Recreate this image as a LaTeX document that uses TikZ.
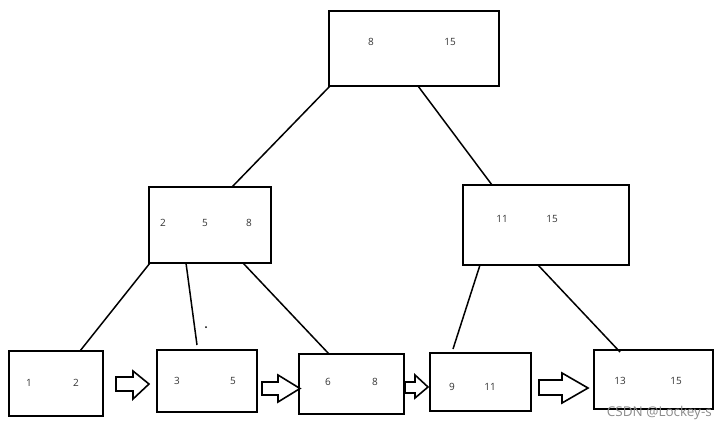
\documentclass[tikz,border=0pt]{standalone}
\usepackage{fontspec}
\setmainfont{Open Sans}
\begin{document}
\begin{tikzpicture}[x=1pt,y=-1pt,
  keybox/.style={draw=black,line width=1.9pt},
  keytext/.style={font=\fontsize{10}{11}\selectfont,text=black!80,inner sep=0pt},
  edge/.style={draw=black,line width=1.5pt},
  blockarrow/.style={draw=black,line width=1.6pt,fill=white,line join=miter}]
\useasboundingbox (0,0) rectangle (727,428);
% boxes
\draw[keybox] (329,11) rectangle (499,86);
\coordinate (rootL) at (330,86); \coordinate (rootR) at (418,86);
\node[keytext] (r8) at (371,42) {8};
\node[keytext] (r15) at (450,42) {15};

\draw[keybox] (149,187) rectangle (271,263);
\coordinate (mlT) at (232,187);
\coordinate (mlA) at (150,263); \coordinate (mlB) at (186,263); \coordinate (mlC) at (243,263);
\node[keytext] (m2) at (163,223) {2};
\node[keytext] (m5) at (205,223) {5};
\node[keytext] (m8) at (249,223) {8};

\draw[keybox] (463,185) rectangle (629,265);
\coordinate (mrT) at (492,185);
\coordinate (mrA) at (480,265); \coordinate (mrB) at (538,265);
\node[keytext] (n11) at (502,219) {11};
\node[keytext] (n15) at (552,219) {15};

\draw[keybox] (9,351) rectangle (103,416);
\coordinate (l1T) at (80,351);
\node[keytext] (a1) at (29,383) {1};
\node[keytext] (a2) at (76,383) {2};

\draw[keybox] (157,350) rectangle (257,412);
\coordinate (l2T) at (197,345);
\node[keytext] (b3) at (177,381) {3};
\node[keytext] (b5) at (233,381) {5};

\draw[keybox] (299,354) rectangle (404,414);
\coordinate (l3T) at (329,354);
\node[keytext] (c6) at (328,382) {6};
\node[keytext] (c8) at (375,382) {8};

\draw[keybox] (430,353) rectangle (531,411);
\coordinate (l4T) at (453,349);
\node[keytext] (d9) at (452,387) {9};
\node[keytext] (d11) at (490,387) {11};

\draw[keybox] (594,350) rectangle (713,409);
\coordinate (l5T) at (620,352);
\node[keytext] (e13) at (620,381) {13};
\node[keytext] (e15) at (676,381) {15};

% edges
\draw[edge] (rootL) -- (mlT);
\draw[edge] (rootR) -- (mrT);
\draw[edge] (mlA) -- (l1T);
\draw[edge] (mlB) -- (l2T);
\draw[edge] (mlC) -- (l3T);
\draw[edge] (mrA) -- (l4T);
\draw[edge] (mrB) -- (l5T);
\fill[black] (206,327) circle (1pt);

% block arrows
\draw[blockarrow] (116,377) -- (133,377) -- (133,371) -- (149,384) -- (133,399) -- (133,391) -- (116,391) -- cycle;
\draw[blockarrow] (262,382) -- (278,382) -- (278,375) -- (300,388.5) -- (278,402) -- (278,395) -- (262,395) -- cycle;
\draw[blockarrow] (405,382) -- (415,382) -- (415,375) -- (428,387) -- (415,398) -- (415,393) -- (405,393) -- cycle;
\draw[blockarrow] (539,380) -- (562,380) -- (562,373) -- (588,388) -- (562,403) -- (562,395) -- (539,395) -- cycle;

\node[font=\fontsize{13.5}{14}\selectfont,text=black!45,anchor=east,inner sep=0pt] (wm) at (712,413) {CSDN @Lockey-s};
\end{tikzpicture}
\end{document}
